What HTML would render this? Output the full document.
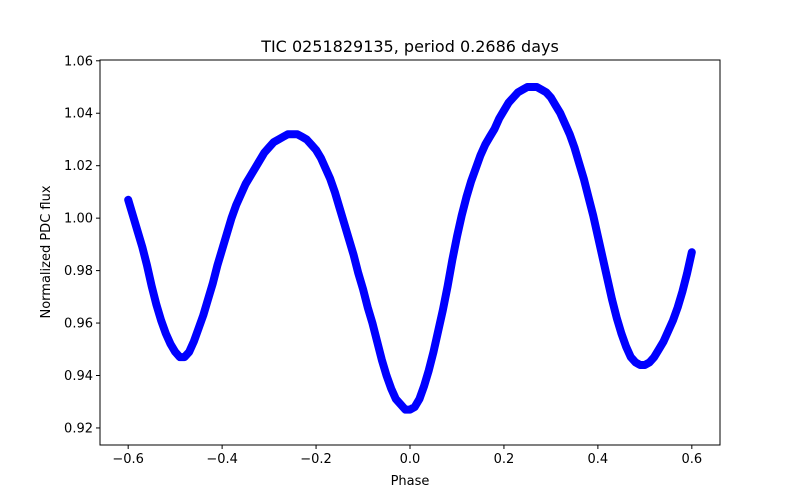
<!DOCTYPE html>
<html><head><meta charset="utf-8">
<style>
html,body{margin:0;padding:0;background:#fff;}
svg{display:block;font-family:"DejaVu Sans","Liberation Sans",sans-serif;}
</style></head>
<body>
<svg id="chart" width="800" height="500" viewBox="0 0 800 500" xmlns="http://www.w3.org/2000/svg">
<rect width="800" height="500" fill="#fff"/>
<text x="410" y="52" text-anchor="middle" font-size="16" fill="#000">TIC 0251829135, period 0.2686 days</text>
<g id="marks"></g>
<g id="axes"></g>
<text x="410" y="485" text-anchor="middle" font-size="13" fill="#000">Phase</text>
<text x="50" y="252" text-anchor="middle" font-size="13" fill="#000" transform="rotate(-90 50 252)">Normalized PDC flux</text>
</svg>
<script>
const phases = [];
for (let i = -60; i <= 60; i++) phases.push(i / 100);
const flux = [
1.007,1.001,0.995,0.989,0.982,0.974,0.967,0.961,0.956,0.952,
0.949,0.947,0.947,0.949,0.953,0.958,0.963,0.969,0.975,0.982,
0.988,0.994,1.000,1.005,1.009,1.013,1.016,1.019,1.022,1.025,
1.027,1.029,1.030,1.031,1.032,1.032,1.032,1.031,1.030,1.028,
1.026,1.023,1.019,1.015,1.010,1.004,0.998,0.992,0.986,0.979,
0.973,0.966,0.960,0.953,0.946,0.940,0.935,0.931,0.929,0.927,
0.927,0.928,0.931,0.936,0.942,0.949,0.957,0.965,0.974,0.984,
0.993,1.001,1.008,1.014,1.019,1.024,1.028,1.031,1.034,1.038,
1.041,1.044,1.046,1.048,1.049,1.050,1.050,1.050,1.049,1.048,
1.046,1.043,1.040,1.036,1.032,1.027,1.021,1.015,1.008,1.001,
0.993,0.985,0.977,0.969,0.962,0.956,0.951,0.947,0.945,0.944,
0.944,0.945,0.947,0.950,0.953,0.957,0.961,0.966,0.972,0.979,
0.987];
const xTicks = [-0.6,-0.4,-0.2,0.0,0.2,0.4,0.6];
const yTicks = [0.92,0.94,0.96,0.98,1.00,1.02,1.04,1.06];

const L=100,R=720,T=60,B=445;
const xMin=-0.66,xMax=0.66,yMin=0.9135,yMax=1.0603;
const xs=v=>L+(v-xMin)/(xMax-xMin)*(R-L);
const ys=v=>B-(v-yMin)/(yMax-yMin)*(B-T);
const NS="http://www.w3.org/2000/svg";
const marks=document.getElementById('marks');
const axes=document.getElementById('axes');
function mk(tag,attrs,parent){const e=document.createElementNS(NS,tag);for(const k in attrs)e.setAttribute(k,attrs[k]);parent.appendChild(e);return e;}

let d='';
phases.forEach((p,i)=>{d+=(i?'L':'M')+xs(p).toFixed(1)+' '+ys(flux[i]).toFixed(1);});
const band=mk('path',{d:d,fill:'none',stroke:'#0000ff','stroke-width':8,'stroke-linejoin':'round','stroke-linecap':'round'},marks);


phases.forEach((p,i)=>{
  const c=mk('circle',{cx:xs(p),cy:ys(flux[i]),r:3.6,fill:'#0000ff'},marks);
  
  
});

const frame=mk('rect',{x:L,y:T,width:R-L,height:B-T,fill:'none',stroke:'#000','stroke-width':1},axes);


const fmt=v=>(v<0?'\u2212':'')+Math.abs(v).toFixed(1);
xTicks.forEach(v=>{
  const x=xs(v);
  const t=mk('line',{x1:x,x2:x,y1:B,y2:B+4,stroke:'#000'},axes);
  
  
  const l=mk('text',{x:x,y:B+18,'text-anchor':'middle','font-size':13},axes);
  l.textContent=fmt(v);
  
  
});
yTicks.forEach(v=>{
  const y=ys(v);
  const t=mk('line',{x1:L-4,x2:L,y1:y,y2:y,stroke:'#000'},axes);
  
  
  const l=mk('text',{x:L-7,y:y+4.5,'text-anchor':'end','font-size':13},axes);
  l.textContent=v.toFixed(2);
  
  
});
</script>
</body></html>
